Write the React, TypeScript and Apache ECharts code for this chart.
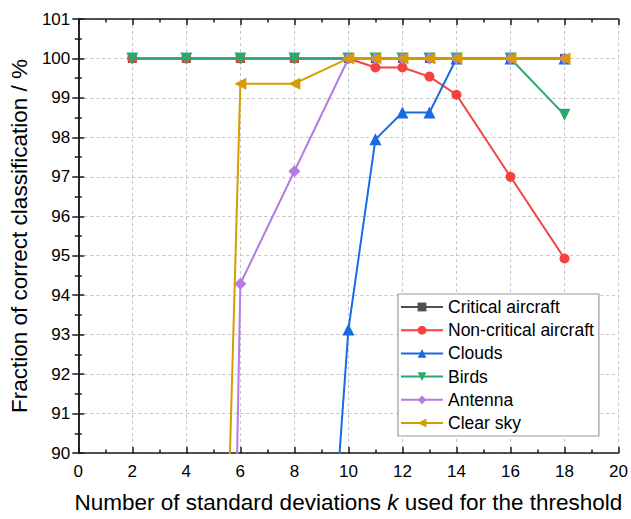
import React, { useEffect, useRef } from "react";
import * as echarts from "echarts";

const kMain = [2, 4, 6, 8, 10, 11, 12, 13, 14, 16, 18];
const criticalAircraft = [100, 100, 100, 100, 100, 100, 100, 100, 100, 100, 100];
const nonCriticalAircraft = [100, 100, 100, 100, 100, 99.77, 99.77, 99.54, 99.08, 97.0, 94.93];
const kClouds = [8, 10, 11, 12, 13, 14, 16, 18];
const clouds = [74, 93.13, 97.95, 98.63, 98.63, 100, 100, 100];
const birds = [100, 100, 100, 100, 100, 100, 100, 100, 100, 100, 98.57];
const kLate = [4, 6, 8, 10, 11, 12, 13, 14, 16, 18];
const antenna = [22, 94.29, 97.14, 100, 100, 100, 100, 100, 100, 100];
const clearSky = [50.6, 99.36, 99.36, 100, 100, 100, 100, 100, 100, 100];

const seriesDefs = [
  { name: "Critical aircraft", k: kMain, v: criticalAircraft, color: "#505050", symbol: "rect", rotate: 0, size: 9 },
  { name: "Non-critical aircraft", k: kMain, v: nonCriticalAircraft, color: "#f44242", symbol: "circle", rotate: 0, size: 10 },
  { name: "Clouds", k: kClouds, v: clouds, color: "#1a6be3", symbol: "triangle", rotate: 0, size: 12 },
  { name: "Birds", k: kMain, v: birds, color: "#2ba86b", symbol: "triangle", rotate: 180, size: 12 },
  { name: "Antenna", k: kLate, v: antenna, color: "#b47be3", symbol: "diamond", rotate: 0, size: 12 },
  { name: "Clear sky", k: kLate, v: clearSky, color: "#d49d00", symbol: "triangle", rotate: 90, size: 12 },
];

const FONT = "'Liberation Sans', Arial, sans-serif";

export default function App() {
  const ref = useRef<HTMLDivElement>(null);
  useEffect(() => {
    if (!ref.current) return;
    const chart = echarts.init(ref.current, undefined, { renderer: "svg" });
    const axisLine = { show: true, lineStyle: { color: "#1a1a1a", width: 1.5 } };
    const split = { show: true, lineStyle: { color: "#c4c4c4", type: [3, 3] as any, width: 1 } };
    const tick = { show: true, inside: true, length: 6, lineStyle: { color: "#1a1a1a", width: 1.5 } };
    const minor = { show: true, splitNumber: 2, length: 3.5, lineStyle: { color: "#1a1a1a", width: 1.5 } };
    const option: any = {
      animation: false,
      backgroundColor: "#ffffff",
      grid: { left: 76, right: 11, top: 19, bottom: 62 },
      legend: {
        orient: "vertical",
        left: 398,
        top: 294,
        itemWidth: 42,
        itemHeight: 11,
        itemGap: 5.2,
        padding: [4, 5, 4, 2],
        borderColor: "#9a9a9a",
        borderWidth: 1.2,
        backgroundColor: "#ffffff",
        textStyle: { fontFamily: FONT, fontSize: 17.5, color: "#000" },
        data: seriesDefs.map((s) => s.name),
      },
      xAxis: [
        {
          type: "value",
          min: 0,
          max: 20,
          interval: 2,
          position: "bottom",
          axisLine,
          axisTick: tick,
          minorTick: minor,
          splitLine: split,
          axisLabel: { fontFamily: FONT, fontSize: 17, color: "#000", margin: 10 },
          name: "Number of standard deviations {i|k} used for the threshold",
          nameLocation: "middle",
          nameGap: 38,
          nameTextStyle: {
            fontFamily: FONT,
            fontSize: 22.5,
            color: "#000",
            rich: { i: { fontStyle: "italic", fontFamily: FONT, fontSize: 22.5, color: "#000" } },
          },
        },
        {
          type: "value",
          min: 0,
          max: 20,
          interval: 2,
          position: "top",
          axisLine,
          axisTick: tick,
          minorTick: minor,
          splitLine: { show: false },
          axisLabel: { show: false },
        },
      ],
      yAxis: [
        {
          type: "value",
          min: 90,
          max: 101,
          interval: 1,
          position: "left",
          axisLine,
          axisTick: tick,
          minorTick: minor,
          splitLine: split,
          axisLabel: { fontFamily: FONT, fontSize: 17, color: "#000", margin: 8 },
          name: "Fraction of correct classification / %",
          nameLocation: "middle",
          nameGap: 42,
          nameTextStyle: { fontFamily: FONT, fontSize: 22.5, color: "#000" },
        },
        {
          type: "value",
          min: 90,
          max: 101,
          interval: 1,
          position: "right",
          axisLine,
          axisTick: tick,
          minorTick: minor,
          splitLine: { show: false },
          axisLabel: { show: false },
        },
      ],
      series: seriesDefs.map((s, i) => ({
        name: s.name,
        type: "line",
        xAxisIndex: 0,
        yAxisIndex: 0,
        data: s.k.map((k, j) => [k, s.v[j]]),
        symbol: s.symbol,
        symbolSize: s.size,
        symbolRotate: s.rotate,
        showAllSymbol: true,
        clip: true,
        z: 2 + i,
        color: s.color,
        lineStyle: { color: s.color, width: 2 },
        itemStyle: { color: s.color, borderWidth: 0 },
      })),
    };
    chart.setOption(option);
    return () => chart.dispose();
  }, []);
  return <div ref={ref} style={{ width: 631, height: 519, position: "absolute", left: 0, top: 0 }} />;
}
